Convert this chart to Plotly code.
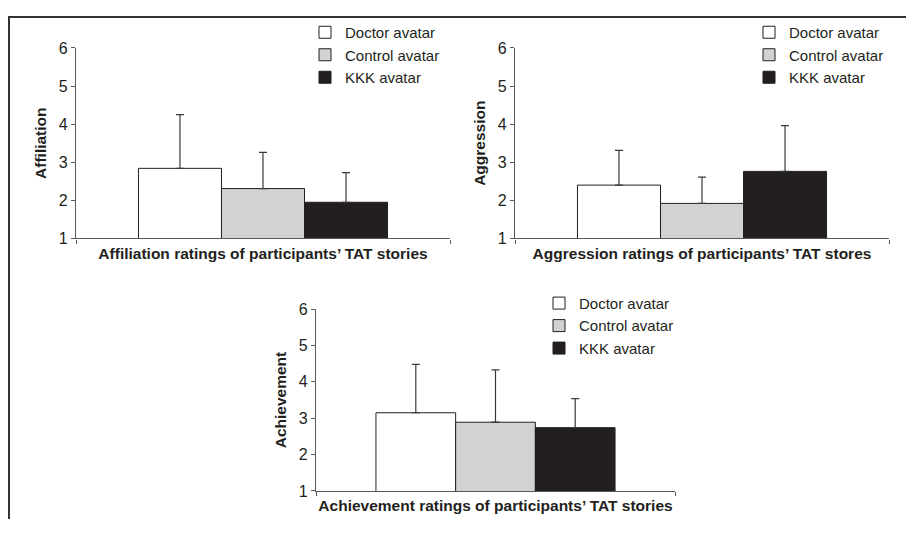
import plotly.graph_objects as go

# browser body margin is 8px, so page coordinates are shifted by OFF
OFF = 8
W, H = 914 - 2 * OFF, 536 - 2 * OFF

groups = ["Doctor avatar", "Control avatar", "KKK avatar"]
fills = ["#ffffff", "#d1d2d4", "#231f20"]

panel_titles = [
    "Affiliation ratings of participants’ TAT stories",
    "Aggression ratings of participants’ TAT stores",
    "Achievement ratings of participants’ TAT stories",
]
y_titles = ["Affiliation", "Aggression", "Achievement"]

affiliation_mean = [2.84, 2.31, 1.95]
affiliation_err = [1.41, 0.95, 0.78]
aggression_mean = [2.40, 1.92, 2.76]
aggression_err = [0.91, 0.69, 1.20]
achievement_mean = [3.15, 2.89, 2.74]
achievement_err = [1.33, 1.44, 0.80]

y_ticks = [1, 2, 3, 4, 5, 6]

means = [affiliation_mean, aggression_mean, achievement_mean]
errs = [affiliation_err, aggression_err, achievement_err]

# panel boxes in page pixels: (x_left, x_right, y_top(6), y_bottom(1))
boxes = [(76, 450, 41, 238), (515, 889, 41, 238), (316, 675, 311, 499)]
# legend left / top in page pixels
legend_pos = [(305, 8), (749, 8), (539, 288)]

TXT = "#231f20"
AX = "#58595b"
FONT = "Liberation Sans, Arial, sans-serif"


def px(x):
    return (x - OFF) / W


def py(y):
    return 1 - (y - OFF) / H


fig = go.Figure()
layout = dict(
    width=W, height=H,
    margin=dict(l=0, r=0, t=0, b=0),
    paper_bgcolor="white", plot_bgcolor="white",
    barmode="group", bargap=0.334, bargroupgap=0,
    font=dict(family=FONT, color=TXT, size=15),
    shapes=[
        dict(type="line", xref="paper", yref="paper",
             x0=1 / W, x1=1 / W, y0=0, y1=1,
             line=dict(color="#333333", width=2)),
        dict(type="line", xref="paper", yref="paper",
             x0=0, x1=1, y0=1 - 1 / H, y1=1 - 1 / H,
             line=dict(color="#333333", width=2)),
    ],
)

for p in range(3):
    sfx = "" if p == 0 else str(p + 1)
    xa, ya = "x" + sfx, "y" + sfx
    lg = "legend" + sfx
    for i, g in enumerate(groups):
        fig.add_trace(go.Bar(
            x=[panel_titles[p]], y=[means[p][i]], name=g,
            xaxis=xa, yaxis=ya, legend=lg, showlegend=True,
            marker=dict(color=fills[i], line=dict(color=TXT, width=1)),
            error_y=dict(type="data", array=[errs[p][i]], symmetric=False,
                         arrayminus=[0], color="#3a3a3a", thickness=1.2, width=4),
        ))
    xl, xr, yt, yb = boxes[p]
    layout["xaxis" + sfx] = dict(
        domain=[px(xl), px(xr)], anchor=ya, type="category",
        showticklabels=False, tickson="boundaries", ticks="outside",
        ticklen=4, tickcolor=AX, showline=True, linecolor=AX, linewidth=1.2,
        showgrid=False, zeroline=False, fixedrange=True,
        title=dict(text="<b>" + panel_titles[p] + "</b>", standoff=9,
                   font=dict(size=15.5, color=TXT)),
    )
    layout["yaxis" + sfx] = dict(
        domain=[py(yb), py(yt)], anchor=xa, range=[1, 6],
        tickvals=y_ticks, ticks="outside", ticklen=4, tickcolor=AX,
        showline=True, linecolor=AX, linewidth=1.2, showgrid=False,
        zeroline=False, tickfont=dict(size=16, color=TXT),
        title=dict(text="<b>" + y_titles[p] + "</b>", standoff=8,
                   font=dict(size=15.5, color=TXT)),
    )
    lx, ly = legend_pos[p]
    layout[lg] = dict(
        x=px(lx), y=py(ly), xanchor="left", yanchor="top",
        bgcolor="rgba(0,0,0,0)", borderwidth=0,
        font=dict(size=15, color=TXT), traceorder="normal",
        itemwidth=30,
    )

fig.update_layout(**layout)
fig.write_html("out.html")
